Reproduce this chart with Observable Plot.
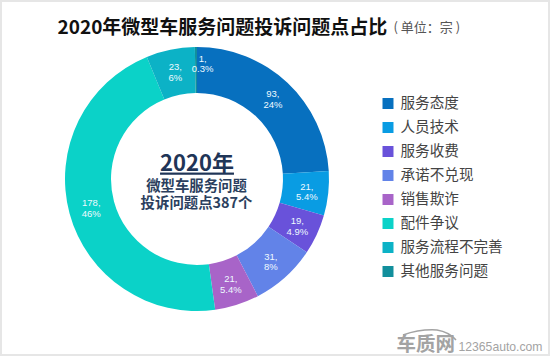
<!DOCTYPE html>
<html>
<head>
<meta charset="utf-8">
<script src="https://cdn.jsdelivr.net/npm/d3@7"></script>
<script src="https://cdn.jsdelivr.net/npm/@observablehq/plot@0.6"></script>
<style>
html,body{margin:0;padding:0;background:#fff}
#chart{position:relative;width:550px;height:356px;overflow:hidden}
#chart svg.plot{display:block}
#frame{position:absolute;left:0;top:0;width:550px;height:356px;box-sizing:border-box;border:2px solid #e6e6e6;pointer-events:none}
#roof{position:absolute;left:0;top:0;pointer-events:none}
</style>
</head>
<body>
<div id="chart"></div>
<script>
const categories = ["服务态度","人员技术","服务收费","承诺不兑现","销售欺诈","配件争议","服务流程不完善","其他服务问题"];
const counts = [93,21,19,31,21,178,23,1];
const shares = ["24%","5.4%","4.9%","8%","5.4%","46%","6%","0.3%"];
const colors = ["#0770bf","#099ce3","#6952da","#6283e8","#a864c8","#0bd2c8","#0cb2c6","#128f9c"];
const total = 387;
const font = "'Noto Sans CJK SC','Noto Sans',sans-serif";

const slices = categories.map((name,i)=>({name,value:counts[i],label:`${counts[i]},\n${shares[i]}`}));
const cx=197, cy=179, rOuter=132, rInner=86, rLabel=110;

function ringLabels(keep){
  return function(index,scales,values,dims,ctx,next){
    const n=values.x.length, X=new Float64Array(n), Y=new Float64Array(n);
    for(let i=0;i<n;i++){X[i]=cx+rLabel*Math.sin(values.x[i]);Y[i]=cy-rLabel*Math.cos(values.x[i]);}
    return next(index.filter(i=>keep(slices[i])),scales,{...values,x:X,y:Y},dims,ctx);
  };
}
const labelStyle={fill:"#eefaff",fontSize:9.5,lineHeight:1.13,fontFamily:"'Liberation Sans',sans-serif"};
const fixedText=(t,dx,dy,o)=>Plot.text([t],{text:d=>d,frameAnchor:"top-left",dx,dy,fontFamily:font,lineAnchor:"middle",...o});

const svg=Plot.plot({
  width:550,height:356,margin:0,
  style:{fontFamily:font,background:"#fff"},
  x:{domain:[0,total],range:[0,2*Math.PI],axis:null},
  y:{type:"point",domain:categories,range:[102,272],padding:0,axis:null},
  color:{type:"ordinal",domain:categories,range:colors},
  marks:[
    Plot.barX(slices,Plot.stackX({x:"value",fill:"name",render(index,scales,values){
      const arc=d3.arc().innerRadius(rInner).outerRadius(rOuter);
      const g=d3.create("svg:g").attr("transform",`translate(${cx},${cy})`);
      g.selectAll("path").data(index).join("path")
        .attr("d",i=>arc({startAngle:values.x1[i],endAngle:values.x2[i]}))
        .attr("fill",i=>values.fill[i]);
      return g.node();
    }})),
    Plot.text(slices,Plot.stackX({x:"value",text:"label",...labelStyle,render:ringLabels(d=>d.value>1)})),
    Plot.text(slices,Plot.stackX({x:"value",text:"label",...labelStyle,dx:6,dy:-6,render:ringLabels(d=>d.value===1)})),
    Plot.dot(categories,{y:d=>d,fill:d=>d,symbol:"square",r:6.2,frameAnchor:"left",dx:387.5}),
    Plot.text(categories,{y:d=>d,text:d=>d,frameAnchor:"left",dx:400,textAnchor:"start",fontSize:14.6,fill:"#444",fontFamily:font}),
    fixedText("2020年微型车服务问题投诉问题点占比",57,27,{textAnchor:"start",fontSize:19,fontWeight:700,fill:"#111"}),
    fixedText("( 单位：宗 )",393,27,{textAnchor:"start",fontSize:13,fill:"#555"}),
    Plot.text(["2020年"],{text:d=>d,frameAnchor:"top-left",dx:196.5,dy:163,textAnchor:"middle",lineAnchor:"middle",fontSize:22,fontWeight:700,fill:"#1f3557",fontFamily:font,
      render(index,scales,values,dims,ctx,next){const g=next(index,scales,values,dims,ctx);g.querySelectorAll("text").forEach(t=>t.style.textDecoration="underline");return g;}}),
    fixedText("微型车服务问题\n投诉问题点387个",196,193.5,{textAnchor:"middle",fontSize:14.4,lineHeight:1.18,fontWeight:700,fill:"#2b3f5e"}),
    fixedText("车质网",396,344,{textAnchor:"start",fontSize:19.5,fontWeight:700,fill:"#a3a3a3"}),
    fixedText("12365auto.com",458,347,{textAnchor:"start",fontSize:12.2,fill:"#a3a3a3",fontFamily:"'Liberation Sans',sans-serif"})
  ]
});
const host=document.getElementById("chart");
host.appendChild(svg);
host.insertAdjacentHTML("beforeend",`<svg id="roof" width="550" height="356"><path d="M403 335Q420 329 437 330Q449 332 456 340" fill="none" stroke="#a3a3a3" stroke-width="1.5"/></svg><div id="frame"></div>`);
</script>
</body>
</html>
